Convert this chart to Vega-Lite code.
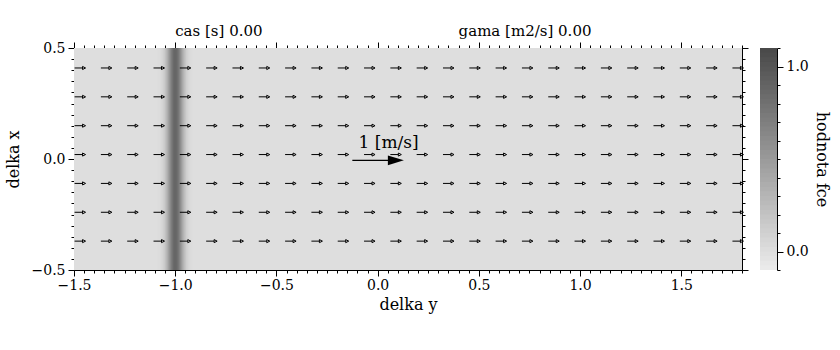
{
  "$schema": "https://vega.github.io/schema/vega-lite/v6.json",
  "background": "white",
  "padding": {"left": 5, "top": 24, "right": 5, "bottom": 5},
  "bounds": "flush",
  "spacing": 18,
  "config": {
    "font": "DejaVu Serif",
    "view": {"stroke": null},
    "axis": {
      "labelFont": "DejaVu Serif", "labelFontSize": 14, "labelColor": "black",
      "titleFont": "DejaVu Serif", "titleFontSize": 16, "titleFontWeight": "normal", "titleColor": "black",
      "domainColor": "black", "tickColor": "black", "grid": false,
      "labelOverlap": false, "labelFlush": false
    }
  },
  "hconcat": [
    {
      "width": 668,
      "height": 222,
      "resolve": {"axis": {"x": "independent", "y": "independent"}},
      "layer": [
        {
          "data": {"values": [
            {"a": -1.5, "b": 1.8, "v": 0},
            {"a": -1.088, "b": -1.082, "v": 0.010},
            {"a": -1.083, "b": -1.077, "v": 0.017},
            {"a": -1.078, "b": -1.072, "v": 0.028},
            {"a": -1.073, "b": -1.067, "v": 0.044},
            {"a": -1.068, "b": -1.062, "v": 0.068},
            {"a": -1.063, "b": -1.057, "v": 0.101},
            {"a": -1.058, "b": -1.052, "v": 0.145},
            {"a": -1.053, "b": -1.047, "v": 0.203},
            {"a": -1.048, "b": -1.042, "v": 0.275},
            {"a": -1.043, "b": -1.037, "v": 0.361},
            {"a": -1.038, "b": -1.032, "v": 0.458},
            {"a": -1.033, "b": -1.027, "v": 0.563},
            {"a": -1.028, "b": -1.022, "v": 0.671},
            {"a": -1.023, "b": -1.017, "v": 0.775},
            {"a": -1.018, "b": -1.012, "v": 0.866},
            {"a": -1.013, "b": -1.007, "v": 0.938},
            {"a": -1.008, "b": -1.002, "v": 0.984},
            {"a": -1.003, "b": -0.997, "v": 1.0},
            {"a": -0.998, "b": -0.992, "v": 0.984},
            {"a": -0.993, "b": -0.987, "v": 0.938},
            {"a": -0.988, "b": -0.982, "v": 0.866},
            {"a": -0.983, "b": -0.977, "v": 0.775},
            {"a": -0.978, "b": -0.972, "v": 0.671},
            {"a": -0.973, "b": -0.967, "v": 0.563},
            {"a": -0.968, "b": -0.962, "v": 0.458},
            {"a": -0.963, "b": -0.957, "v": 0.361},
            {"a": -0.958, "b": -0.952, "v": 0.275},
            {"a": -0.953, "b": -0.947, "v": 0.203},
            {"a": -0.948, "b": -0.942, "v": 0.145},
            {"a": -0.943, "b": -0.937, "v": 0.101},
            {"a": -0.938, "b": -0.932, "v": 0.068},
            {"a": -0.933, "b": -0.927, "v": 0.044},
            {"a": -0.928, "b": -0.922, "v": 0.028},
            {"a": -0.923, "b": -0.917, "v": 0.017},
            {"a": -0.918, "b": -0.912, "v": 0.010}
          ]},
          "mark": {"type": "rect", "strokeWidth": 0},
          "encoding": {
            "x": {"field": "a", "type": "quantitative",
              "scale": {"domain": [-1.5, 1.8], "nice": false, "zero": false},
              "axis": {"orient": "bottom", "title": "delka y", "titlePadding": 4, "labelPadding": 2,
                "values": [-1.5,-1.45,-1.4,-1.35,-1.3,-1.25,-1.2,-1.15,-1.1,-1.05,-1.0,-0.95,-0.9,-0.85,-0.8,-0.75,-0.7,-0.65,-0.6,-0.55,-0.5,-0.45,-0.4,-0.35,-0.3,-0.25,-0.2,-0.15,-0.1,-0.05,0,0.05,0.1,0.15,0.2,0.25,0.3,0.35,0.4,0.45,0.5,0.55,0.6,0.65,0.7,0.75,0.8,0.85,0.9,0.95,1.0,1.05,1.1,1.15,1.2,1.25,1.3,1.35,1.4,1.45,1.5,1.55,1.6,1.65,1.7,1.75,1.8],
                "labelExpr": "abs(datum.value*2 - round(datum.value*2)) < 0.001 ? format(datum.value, '.1f') : ''",
                "tickSize": {"condition": {"test": "abs(datum.value*2 - round(datum.value*2)) < 0.001", "value": 6}, "value": 3}}},
            "x2": {"field": "b"},
            "y": {"datum": -0.5, "type": "quantitative",
              "scale": {"domain": [-0.5, 0.5], "nice": false, "zero": false},
              "axis": {"orient": "left", "title": "delka x", "titlePadding": 10, "labelPadding": 3,
                "values": [-0.5,-0.45,-0.4,-0.35,-0.3,-0.25,-0.2,-0.15,-0.1,-0.05,0,0.05,0.1,0.15,0.2,0.25,0.3,0.35,0.4,0.45,0.5],
                "labelExpr": "abs(datum.value*2 - round(datum.value*2)) < 0.001 ? format(datum.value, '.1f') : ''",
                "tickSize": {"condition": {"test": "abs(datum.value*2 - round(datum.value*2)) < 0.001", "value": 6}, "value": 3}}},
            "y2": {"datum": 0.5},
            "color": {"field": "v", "type": "quantitative", "legend": null,
              "scale": {"domain": [-0.1, 1.1], "range": ["#ececec", "#484848"], "interpolate": "rgb"}}
          }
        },
        {
          "data": {"values": [
            {"y": 0.41, "x": [-1.47,-1.34,-1.21,-1.08,-0.95,-0.82,-0.69,-0.56,-0.43,-0.30,-0.17,-0.04,0.09,0.22,0.35,0.48,0.61,0.74,0.87,1.00,1.13,1.26,1.39,1.52,1.65,1.78]},
            {"y": 0.28, "x": [-1.47,-1.34,-1.21,-1.08,-0.95,-0.82,-0.69,-0.56,-0.43,-0.30,-0.17,-0.04,0.09,0.22,0.35,0.48,0.61,0.74,0.87,1.00,1.13,1.26,1.39,1.52,1.65,1.78]},
            {"y": 0.15, "x": [-1.47,-1.34,-1.21,-1.08,-0.95,-0.82,-0.69,-0.56,-0.43,-0.30,-0.17,-0.04,0.09,0.22,0.35,0.48,0.61,0.74,0.87,1.00,1.13,1.26,1.39,1.52,1.65,1.78]},
            {"y": 0.02, "x": [-1.47,-1.34,-1.21,-1.08,-0.95,-0.82,-0.69,-0.56,-0.43,-0.30,-0.17,-0.04,0.09,0.22,0.35,0.48,0.61,0.74,0.87,1.00,1.13,1.26,1.39,1.52,1.65,1.78]},
            {"y": -0.11, "x": [-1.47,-1.34,-1.21,-1.08,-0.95,-0.82,-0.69,-0.56,-0.43,-0.30,-0.17,-0.04,0.09,0.22,0.35,0.48,0.61,0.74,0.87,1.00,1.13,1.26,1.39,1.52,1.65,1.78]},
            {"y": -0.24, "x": [-1.47,-1.34,-1.21,-1.08,-0.95,-0.82,-0.69,-0.56,-0.43,-0.30,-0.17,-0.04,0.09,0.22,0.35,0.48,0.61,0.74,0.87,1.00,1.13,1.26,1.39,1.52,1.65,1.78]},
            {"y": -0.37, "x": [-1.47,-1.34,-1.21,-1.08,-0.95,-0.82,-0.69,-0.56,-0.43,-0.30,-0.17,-0.04,0.09,0.22,0.35,0.48,0.61,0.74,0.87,1.00,1.13,1.26,1.39,1.52,1.65,1.78]}
          ]},
          "transform": [{"flatten": ["x"]}],
          "mark": {"type": "point", "shape": "M-1,0L0.45,0M0.45,-0.28L1,0L0.45,0.28Z", "size": 121, "filled": false, "stroke": "black", "strokeWidth": 1, "opacity": 1},
          "encoding": {
            "x": {"field": "x", "type": "quantitative",
              "scale": {"domain": [-1.5, 1.8], "nice": false, "zero": false},
              "axis": {"orient": "top", "title": null, "labels": false,
                "values": [-1.5,-1.45,-1.4,-1.35,-1.3,-1.25,-1.2,-1.15,-1.1,-1.05,-1.0,-0.95,-0.9,-0.85,-0.8,-0.75,-0.7,-0.65,-0.6,-0.55,-0.5,-0.45,-0.4,-0.35,-0.3,-0.25,-0.2,-0.15,-0.1,-0.05,0,0.05,0.1,0.15,0.2,0.25,0.3,0.35,0.4,0.45,0.5,0.55,0.6,0.65,0.7,0.75,0.8,0.85,0.9,0.95,1.0,1.05,1.1,1.15,1.2,1.25,1.3,1.35,1.4,1.45,1.5,1.55,1.6,1.65,1.7,1.75,1.8],
                "tickSize": {"condition": {"test": "abs(datum.value*2 - round(datum.value*2)) < 0.001", "value": 6}, "value": 3}}},
            "y": {"field": "y", "type": "quantitative",
              "scale": {"domain": [-0.5, 0.5], "nice": false, "zero": false},
              "axis": {"orient": "right", "title": null, "labels": false,
                "values": [-0.5,-0.45,-0.4,-0.35,-0.3,-0.25,-0.2,-0.15,-0.1,-0.05,0,0.05,0.1,0.15,0.2,0.25,0.3,0.35,0.4,0.45,0.5],
                "tickSize": {"condition": {"test": "abs(datum.value*2 - round(datum.value*2)) < 0.001", "value": 6}, "value": 3}}}
          }
        },
        {
          "data": {"values": [{"x": -0.125, "x2": 0.09, "y": -0.006}]},
          "mark": {"type": "rule", "color": "black", "strokeWidth": 1.2},
          "encoding": {
            "x": {"field": "x", "type": "quantitative", "axis": null},
            "x2": {"field": "x2"},
            "y": {"field": "y", "type": "quantitative", "axis": null}
          }
        },
        {
          "data": {"values": [{"x": 0.09, "y": -0.006}]},
          "mark": {"type": "point", "shape": "M-1,-0.6L1,0L-1,0.6Z", "size": 256, "filled": true, "color": "black", "opacity": 1},
          "encoding": {
            "x": {"field": "x", "type": "quantitative", "axis": null},
            "y": {"field": "y", "type": "quantitative", "axis": null}
          }
        },
        {
          "data": {"values": [{"x": 0.054, "y": 0.071, "label": "1 [m/s]"}]},
          "mark": {"type": "text", "font": "DejaVu Serif", "fontSize": 17, "align": "center", "baseline": "middle", "color": "black"},
          "encoding": {
            "x": {"field": "x", "type": "quantitative", "axis": null},
            "y": {"field": "y", "type": "quantitative", "axis": null},
            "text": {"field": "label"}
          }
        },
        {
          "data": {"values": [{"x": -1.0, "label": "cas [s] 0.00"}, {"x": 0.4, "label": "gama [m2/s] 0.00"}]},
          "mark": {"type": "text", "font": "DejaVu Serif", "fontSize": 15, "align": "left", "baseline": "middle", "color": "black"},
          "encoding": {
            "x": {"field": "x", "type": "quantitative", "axis": null},
            "y": {"datum": 0.575, "type": "quantitative", "axis": null},
            "text": {"field": "label"}
          }
        }
      ]
    },
    {
      "width": 17,
      "height": 222,
      "data": {"values": [
        {"a": -0.100, "b": -0.070, "v": -0.0875},
        {"a": -0.075, "b": -0.045, "v": -0.0625},
        {"a": -0.050, "b": -0.020, "v": -0.0375},
        {"a": -0.025, "b": 0.005, "v": -0.0125},
        {"a": 0.000, "b": 0.030, "v": 0.0125},
        {"a": 0.025, "b": 0.055, "v": 0.0375},
        {"a": 0.050, "b": 0.080, "v": 0.0625},
        {"a": 0.075, "b": 0.105, "v": 0.0875},
        {"a": 0.100, "b": 0.130, "v": 0.1125},
        {"a": 0.125, "b": 0.155, "v": 0.1375},
        {"a": 0.150, "b": 0.180, "v": 0.1625},
        {"a": 0.175, "b": 0.205, "v": 0.1875},
        {"a": 0.200, "b": 0.230, "v": 0.2125},
        {"a": 0.225, "b": 0.255, "v": 0.2375},
        {"a": 0.250, "b": 0.280, "v": 0.2625},
        {"a": 0.275, "b": 0.305, "v": 0.2875},
        {"a": 0.300, "b": 0.330, "v": 0.3125},
        {"a": 0.325, "b": 0.355, "v": 0.3375},
        {"a": 0.350, "b": 0.380, "v": 0.3625},
        {"a": 0.375, "b": 0.405, "v": 0.3875},
        {"a": 0.400, "b": 0.430, "v": 0.4125},
        {"a": 0.425, "b": 0.455, "v": 0.4375},
        {"a": 0.450, "b": 0.480, "v": 0.4625},
        {"a": 0.475, "b": 0.505, "v": 0.4875},
        {"a": 0.500, "b": 0.530, "v": 0.5125},
        {"a": 0.525, "b": 0.555, "v": 0.5375},
        {"a": 0.550, "b": 0.580, "v": 0.5625},
        {"a": 0.575, "b": 0.605, "v": 0.5875},
        {"a": 0.600, "b": 0.630, "v": 0.6125},
        {"a": 0.625, "b": 0.655, "v": 0.6375},
        {"a": 0.650, "b": 0.680, "v": 0.6625},
        {"a": 0.675, "b": 0.705, "v": 0.6875},
        {"a": 0.700, "b": 0.730, "v": 0.7125},
        {"a": 0.725, "b": 0.755, "v": 0.7375},
        {"a": 0.750, "b": 0.780, "v": 0.7625},
        {"a": 0.775, "b": 0.805, "v": 0.7875},
        {"a": 0.800, "b": 0.830, "v": 0.8125},
        {"a": 0.825, "b": 0.855, "v": 0.8375},
        {"a": 0.850, "b": 0.880, "v": 0.8625},
        {"a": 0.875, "b": 0.905, "v": 0.8875},
        {"a": 0.900, "b": 0.930, "v": 0.9125},
        {"a": 0.925, "b": 0.955, "v": 0.9375},
        {"a": 0.950, "b": 0.980, "v": 0.9625},
        {"a": 0.975, "b": 1.005, "v": 0.9875},
        {"a": 1.000, "b": 1.030, "v": 1.0125},
        {"a": 1.025, "b": 1.055, "v": 1.0375},
        {"a": 1.050, "b": 1.080, "v": 1.0625},
        {"a": 1.075, "b": 1.100, "v": 1.0875}
      ]},
      "mark": {"type": "rect", "strokeWidth": 0},
      "encoding": {
        "y": {"field": "a", "type": "quantitative",
          "scale": {"domain": [-0.1, 1.1], "nice": false, "zero": false},
          "axis": {"orient": "right", "title": "hodnota fce", "titleAngle": 90, "titlePadding": 5, "labelPadding": 3,
            "values": [-0.1,0,0.1,0.2,0.3,0.4,0.5,0.6,0.7,0.8,0.9,1.0,1.1],
            "labelExpr": "abs(datum.value) < 0.001 || abs(datum.value - 1) < 0.001 ? format(datum.value, '.1f') : ''",
            "tickSize": {"condition": {"test": "abs(datum.value) < 0.001 || abs(datum.value - 1) < 0.001", "value": 6}, "value": 3}}},
        "y2": {"field": "b"},
        "color": {"field": "v", "type": "quantitative", "legend": null,
          "scale": {"domain": [-0.1, 1.1], "range": ["#ececec", "#484848"], "interpolate": "rgb"}}
      }
    }
  ]
}
